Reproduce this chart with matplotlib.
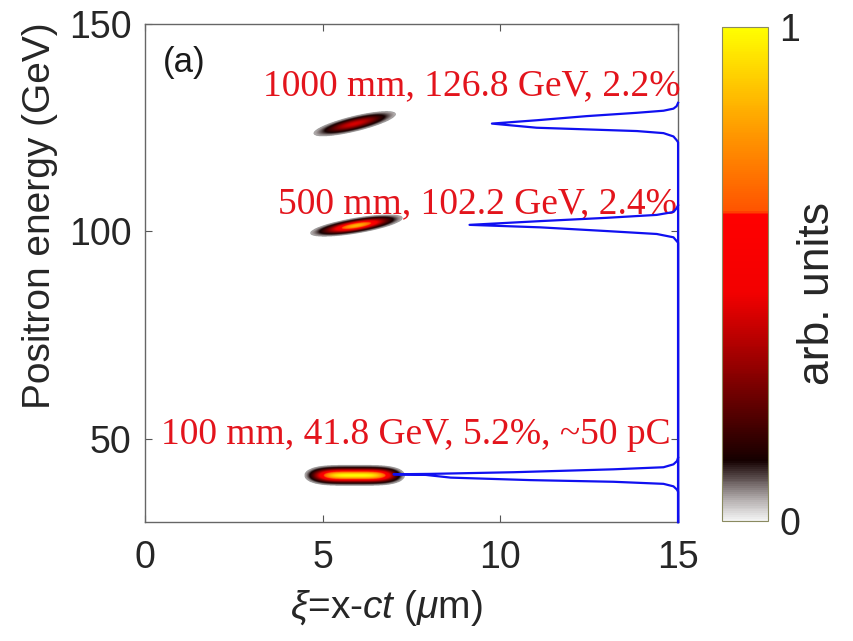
import numpy as np
import matplotlib.pyplot as plt
from matplotlib.colors import LinearSegmentedColormap

plt.rcParams['font.family'] = ['Liberation Sans', 'DejaVu Sans']
plt.rcParams['mathtext.fontset'] = 'custom'
plt.rcParams['mathtext.rm'] = 'Liberation Sans'
plt.rcParams['mathtext.it'] = 'Liberation Sans:italic'

# positron bunches
bunch_x = [5.9, 5.95, 5.9]          # um
bunch_E = [125.8, 101.3, 41.2]      # GeV
bunch_tilt = [2.0, 1.4, 0.0]        # GeV per um
bunch_peak = [0.42, 0.85, 1.0]
bunch_len = [0.75, 0.74, 1.05]
bunch_wid = [1.2, 1.05, 1.35]
bunch_pow = [2, 2, 4]

# energy spectra (blue lines), signal measured leftwards from xi = 15
spec1_E = [30, 121.5, 122.0, 122.9, 123.7, 124.2, 124.6, 125.0, 126.0, 126.8, 127.8, 128.6, 129.1, 129.6, 130.2, 131.0]
spec1_S = [0, 0, 0.04, 0.13, 0.41, 1.16, 2.57, 3.98, 5.24, 3.98, 2.57, 1.16, 0.41, 0.13, 0.04, 0]
spec2_E = [30, 97.3, 97.8, 98.6, 99.4, 100.1, 101.0, 101.6, 102.5, 103.3, 104.0, 104.7, 105.5, 106.3]
spec2_S = [0, 0, 0.05, 0.13, 0.6, 2.0, 3.88, 5.87, 3.88, 2.0, 0.6, 0.13, 0.05, 0]
spec3_E = [30, 37.3, 37.8, 38.6, 39.2, 39.7, 40.1, 40.7, 41.35, 41.5, 41.6, 42.0, 42.7, 43.2, 43.9, 44.7, 45.5]
spec3_S = [0, 0, 0.03, 0.13, 0.41, 1.82, 4.16, 6.4, 7.1, 8.01, 6.98, 4.63, 1.82, 0.41, 0.13, 0.03, 0]

labels = ['1000 mm, 126.8 GeV, 2.2%', '500 mm, 102.2 GeV, 2.4%', '100 mm, 41.8 GeV, 5.2%, ~50 pC']
label_x = [15.08, 14.98, 14.8]
label_E = [132.9, 104.3, 48.8]

cmap = LinearSegmentedColormap.from_list('whot', [
    (0.0, (0.95, 0.95, 0.95)),
    (0.04, (0.72, 0.70, 0.70)),
    (0.12, (0.08, 0.0, 0.0)),
    (0.30, (0.55, 0.0, 0.0)),
    (0.46, (0.95, 0.0, 0.0)),
    (0.62, (1.0, 0.0, 0.0)),
    (0.63, (1.0, 0.33, 0.0)),
    (0.80, (1.0, 0.62, 0.0)),
    (1.0, (1.0, 1.0, 0.0))])

xx = np.linspace(0, 15, 1200)
ee = np.linspace(30, 150, 2400)
X, E = np.meshgrid(xx, ee)
img = np.zeros_like(X)
for i in range(3):
    u = X - bunch_x[i]
    v = E - (bunch_E[i] + bunch_tilt[i] * u)
    img += bunch_peak[i] * np.exp(-np.abs(u / bunch_len[i]) ** bunch_pow[i]) * np.exp(-(v / bunch_wid[i]) ** 2)
img = np.ma.masked_less(img, 0.04)

fig = plt.figure(figsize=(8.54, 6.41), dpi=100)
ax = fig.add_axes([0.170, 0.1856, 0.624, 0.777])
im = ax.imshow(img, extent=[0, 15, 30, 150], origin='lower', aspect='auto',
               cmap=cmap, vmin=0, vmax=1, interpolation='bilinear')

for se, ss in [(spec1_E, spec1_S), (spec2_E, spec2_S), (spec3_E, spec3_S)]:
    ax.plot(15 - np.array(ss), se, color='#1010f0', lw=1.6, clip_on=False, zorder=5)

for t, x, y in zip(labels, label_x, label_E):
    ax.text(x, y, t, color='#e3141c', fontsize=27, family='Liberation Serif',
            ha='right', va='baseline')

ax.text(0.5, 140.6, '(a)', fontsize=25, color='#1a1a1a', va='center')

ax.set_xlim(0, 15)
ax.set_ylim(30, 150)
ax.set_xticks([0, 5, 10, 15])
ax.set_yticks([50, 100, 150])
ax.tick_params(direction='in', length=5, width=0.8, color='#555555', labelsize=27,
               labelcolor='#262626', top=True, right=True, pad=10)
ax.tick_params(axis='x', pad=13)
for s in ax.spines.values():
    s.set_color('#666666')
    s.set_linewidth(1.0)
ax.set_xlabel(r'$\xi$=x-$ct$ ($\mu$m)', fontsize=28, color='#262626')
ax.set_ylabel('Positron energy (GeV)', fontsize=28, color='#262626')
ax.xaxis.set_label_coords(0.452, -0.133)
ax.yaxis.set_label_coords(-0.163, 0.616)

cax = fig.add_axes([0.8454, 0.1872, 0.0539, 0.770])
cb = fig.colorbar(im, cax=cax, ticks=[0, 1])
cb.ax.tick_params(length=0, labelsize=27, labelcolor='#262626', pad=8)
cb.outline.set_edgecolor('#8a8a60')
cb.outline.set_linewidth(0.8)
cb.set_label('arb. units', fontsize=32, color='#262626')
cb.ax.yaxis.set_label_coords(1.63, 0.46)

fig.savefig('out.png', dpi=100)
